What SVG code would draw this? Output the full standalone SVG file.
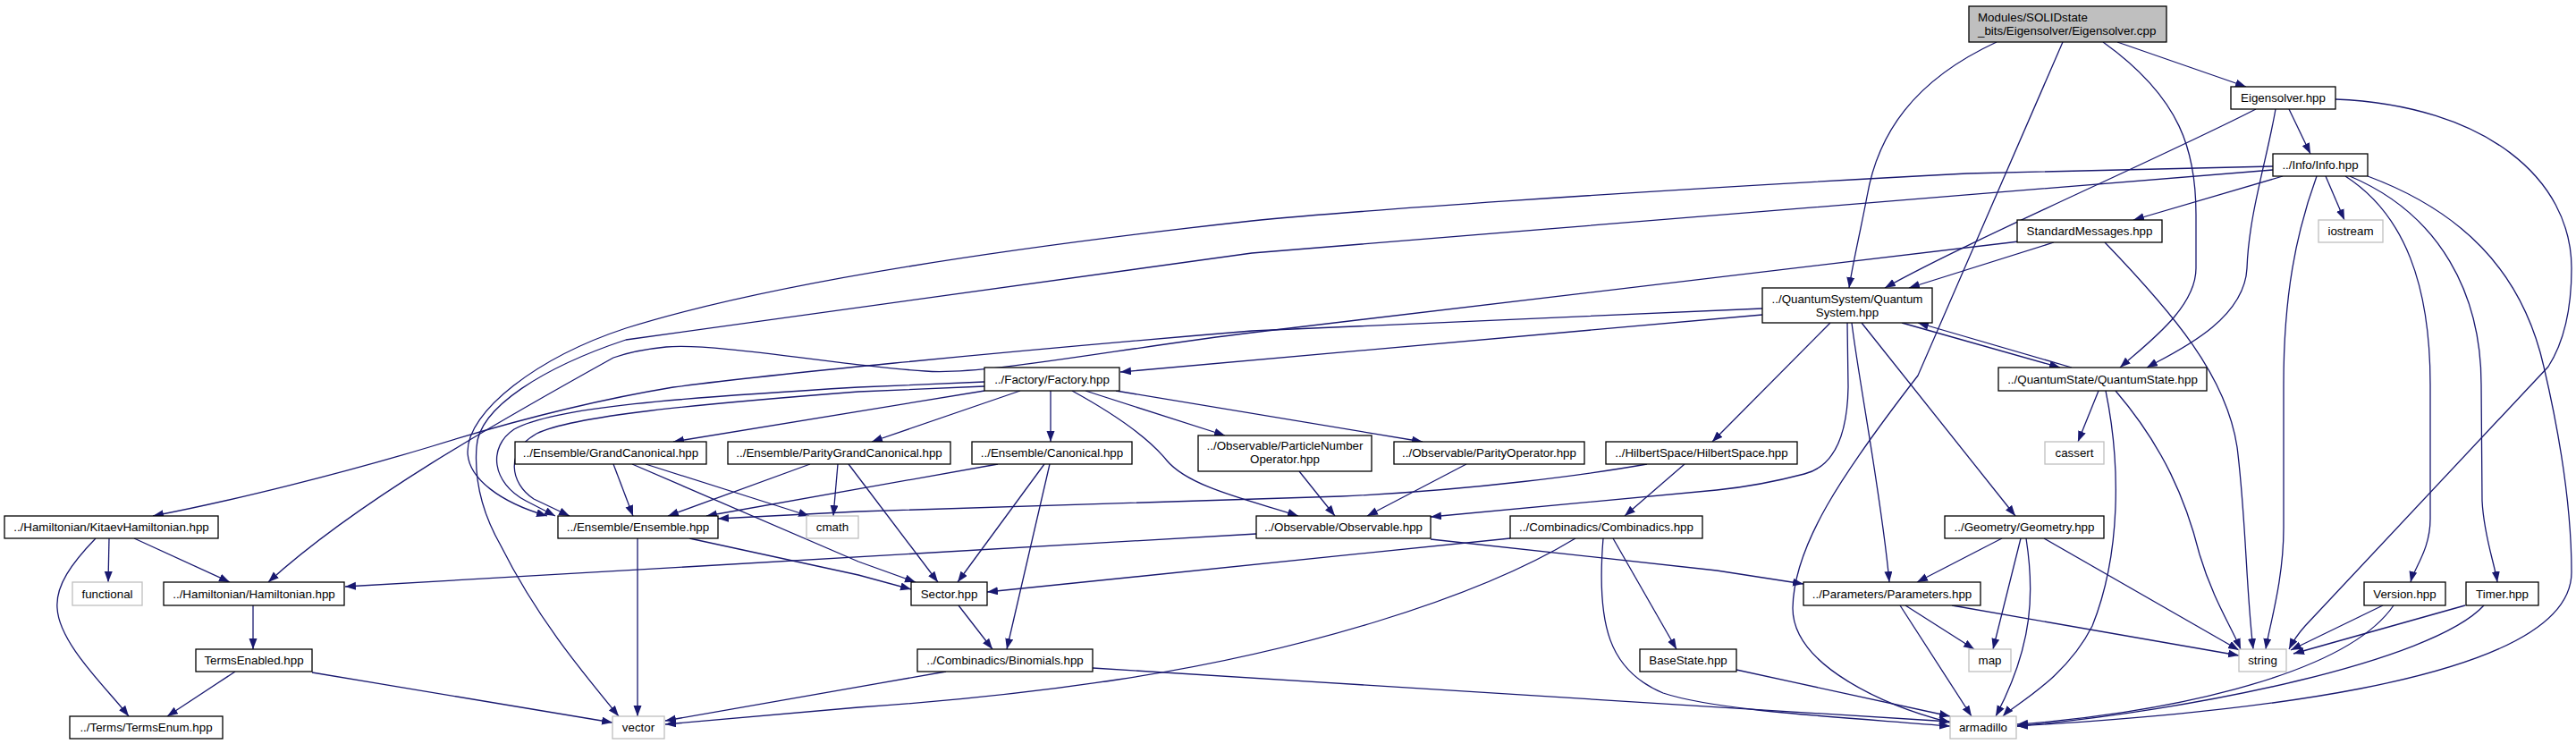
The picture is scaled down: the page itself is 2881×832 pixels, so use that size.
<svg xmlns="http://www.w3.org/2000/svg" width="2881" height="832" viewBox="0 0 2881 832">
<defs>
<marker id="ah" markerWidth="13" markerHeight="10" refX="12" refY="4.5" orient="auto" markerUnits="userSpaceOnUse"><path d="M0,0 L12,4.5 L0,9 z" fill="#191970"/></marker>
<style>
.nd rect{fill:#fff;stroke:#000;stroke-width:1.3}
.ex rect{fill:#fff;stroke:#bfbfbf;stroke-width:1.3}
.root rect{fill:#bfbfbf;stroke:#000;stroke-width:1.3}
text{font-family:"Liberation Sans",Arial,Helvetica,sans-serif;font-size:13.33px;text-anchor:middle;fill:#000}
.root text{text-anchor:start}
#edges path{fill:none;stroke:#191970;stroke-width:1.3;marker-end:url(#ah)}
</style>
</defs>
<rect width="2881" height="832" fill="#fff"/>
<g id="edges">
<path d="M2368,47 L2512,97"/>
<path d="M2233,47 C2140,90 2100,150 2088,220 C2080,262 2072,295 2068,322"/>
<path d="M2307,47 L2145,420 C2060,530 2006,610 2005,680 C2005,745 2110,790 2181,808"/>
<path d="M2352,47 C2440,110 2456,170 2456,240 L2456,300 C2456,345 2400,385 2371,411"/>
<path d="M2560,122 L2584,172"/>
<path d="M2523,122 C2420,175 2200,270 2108,322"/>
<path d="M2545,122 C2535,180 2515,240 2513,300 C2510,360 2430,395 2401,411"/>
<path d="M2612,111 C2780,118 2876,200 2876,300 C2876,350 2866,385 2850,410 L2578,700 C2570,709 2565,716 2560,726"/>
<path d="M2553,197 L2386,246"/>
<path d="M2601,197 L2622,246"/>
<path d="M2591,197 C2568,260 2554,330 2554,430 L2554,590 C2554,650 2538,700 2534,726"/>
<path d="M2623,197 C2690,240 2718,320 2718,430 L2718,580 C2718,615 2700,635 2696,651"/>
<path d="M2628,197 C2730,240 2775,330 2775,430 L2776,560 C2778,600 2790,630 2793,651"/>
<path d="M2648,197 C2750,235 2820,300 2845,410 C2866,500 2876,580 2876,640 C2876,770 2450,800 2256,812"/>
<path d="M2542,186 L2200,194 C1800,215 1500,237 1400,247 C1100,280 850,320 700,367 C600,400 523,460 523,505 C523,535 560,562 612,577"/>
<path d="M2542,190 L1400,283 L700,380 C610,410 535,455 533,500 C530,540 540,575 560,610 C600,690 650,750 692,801"/>
<path d="M2297,271 L2135,322"/>
<path d="M2354,271 C2430,350 2490,420 2502,500 C2512,580 2512,660 2520,726"/>
<path d="M2258,270 L1400,372 C1250,390 1100,420 1035,415 C950,410 800,383 745,388 C715,391 700,395 686,400 C560,470 400,560 300,651"/>
<path d="M1971,352 L1253,416"/>
<path d="M1971,345 L1400,370 C1100,395 850,420 753,433 C650,450 560,475 480,500 C380,530 260,560 171,577"/>
<path d="M2127,361 L2304,411"/>
<path d="M2317,411 L2145,361"/>
<path d="M2047,361 L1915,494"/>
<path d="M2066,361 L2067,433 C2066,490 2050,522 2018,530 C1980,540 1950,545 1920,548 L1600,578"/>
<path d="M2071,361 C2078,420 2105,560 2113,651"/>
<path d="M2082,361 L2254,577"/>
<path d="M1101,437 L753,494"/>
<path d="M1141,437 L975,494"/>
<path d="M1175,437 L1175,494"/>
<path d="M1199,437 C1250,465 1285,490 1305,515 C1330,545 1400,560 1452,577"/>
<path d="M1214,437 L1370,487"/>
<path d="M1248,437 L1591,494"/>
<path d="M1101,427 L960,433 C760,445 620,455 575,480 C545,500 550,540 588,560 L621,577"/>
<path d="M1101,432 L960,438 C780,452 640,465 600,485 C565,505 570,540 597,558 L637,577"/>
<path d="M686,519 L708,577"/>
<path d="M722,519 L905,577"/>
<path d="M707,519 L960,628 L1024,651"/>
<path d="M906,519 L747,577"/>
<path d="M937,519 L932,577"/>
<path d="M949,519 L1049,651"/>
<path d="M1116,519 L790,577"/>
<path d="M1168,519 L1071,651"/>
<path d="M1174,519 L1126,726"/>
<path d="M1072,677 L1110,726"/>
<path d="M771,602 L960,643 L1019,659"/>
<path d="M713,602 L713,801"/>
<path d="M1842,519 C1780,530 1650,548 1500,555 L960,572 L803,580"/>
<path d="M1884,519 L1817,577"/>
<path d="M1453,527 L1493,577"/>
<path d="M1640,519 L1529,577"/>
<path d="M1405,597 L386,656"/>
<path d="M1600,603 L1920,638 L2017,653"/>
<path d="M1689,602 L1104,662"/>
<path d="M1762,602 C1650,670 1450,730 1250,760 C1150,775 1050,785 960,791 L744,810"/>
<path d="M1804,602 L1875,726"/>
<path d="M1793,602 C1785,700 1800,750 1860,775 C1920,795 2060,802 2181,812"/>
<path d="M1058,751 L744,806"/>
<path d="M1222,747 L2181,807"/>
<path d="M1942,749 L2181,801"/>
<path d="M2131,677 L2208,726"/>
<path d="M2125,677 L2205,801"/>
<path d="M2183,677 L2504,733"/>
<path d="M2239,602 L2144,651"/>
<path d="M2260,602 L2229,726"/>
<path d="M2266,602 C2275,660 2275,720 2232,801"/>
<path d="M2286,602 L2504,727"/>
<path d="M2347,437 L2324,494"/>
<path d="M2355,437 C2372,520 2372,620 2340,700 C2310,760 2250,790 2240,801"/>
<path d="M2366,437 C2420,500 2445,560 2460,620 C2475,670 2495,700 2506,726"/>
<path d="M2665,677 L2562,727"/>
<path d="M2677,677 C2620,760 2400,800 2256,810"/>
<path d="M2757,677 L2565,731"/>
<path d="M2778,677 C2720,740 2450,795 2256,812"/>
<path d="M122,602 L121,651"/>
<path d="M150,602 L257,651"/>
<path d="M107,602 C80,630 62,655 64,680 C66,720 120,770 144,801"/>
<path d="M283,677 L283,726"/>
<path d="M263,751 L187,801"/>
<path d="M349,752 L685,808"/>
</g>
<g id="n1" class="root"><rect x="2202" y="7" width="221" height="40"/><text x="2212" y="24">Modules/SOLIDstate</text><text x="2212" y="39">_bits/Eigensolver/Eigensolver.cpp</text></g>
<g id="n2" class="nd"><rect x="2495" y="97" width="117" height="25"/><text x="2553.5" y="114.2">Eigensolver.hpp</text></g>
<g id="n3" class="nd"><rect x="2542" y="172" width="106" height="25"/><text x="2595" y="189.2">../Info/Info.hpp</text></g>
<g id="n4" class="nd"><rect x="2256" y="246" width="162" height="25"/><text x="2337" y="263.2">StandardMessages.hpp</text></g>
<g id="n5" class="ex"><rect x="2593" y="246" width="72" height="25"/><text x="2629" y="263.2">iostream</text></g>
<g id="n6" class="nd"><rect x="1971" y="322" width="190" height="39"/><text x="2066" y="338.5">../QuantumSystem/Quantum</text><text x="2066" y="353.5">System.hpp</text></g>
<g id="n7" class="nd"><rect x="2235" y="411" width="233" height="26"/><text x="2351.5" y="428.7">../QuantumState/QuantumState.hpp</text></g>
<g id="n8" class="nd"><rect x="1101" y="411" width="151" height="26"/><text x="1176.5" y="428.7">../Factory/Factory.hpp</text></g>
<g id="n9" class="nd"><rect x="576" y="494" width="214" height="25"/><text x="683" y="511.2">../Ensemble/GrandCanonical.hpp</text></g>
<g id="n10" class="nd"><rect x="814" y="494" width="249" height="25"/><text x="938.5" y="511.2">../Ensemble/ParityGrandCanonical.hpp</text></g>
<g id="n11" class="nd"><rect x="1087" y="494" width="179" height="25"/><text x="1176.5" y="511.2">../Ensemble/Canonical.hpp</text></g>
<g id="n12" class="nd"><rect x="1340" y="487" width="194" height="40"/><text x="1437" y="503">../Observable/ParticleNumber</text><text x="1437" y="518">Operator.hpp</text></g>
<g id="n13" class="nd"><rect x="1559" y="494" width="213" height="25"/><text x="1665.5" y="511.2">../Observable/ParityOperator.hpp</text></g>
<g id="n14" class="nd"><rect x="1796" y="494" width="214" height="25"/><text x="1903" y="511.2">../HilbertSpace/HilbertSpace.hpp</text></g>
<g id="n15" class="ex"><rect x="2287" y="494" width="66" height="25"/><text x="2320" y="511.2">cassert</text></g>
<g id="n16" class="nd"><rect x="5" y="577" width="239" height="25"/><text x="124.5" y="594.2">../Hamiltonian/KitaevHamiltonian.hpp</text></g>
<g id="n17" class="nd"><rect x="624" y="577" width="179" height="25"/><text x="713.5" y="594.2">../Ensemble/Ensemble.hpp</text></g>
<g id="n18" class="ex"><rect x="902" y="577" width="58" height="25"/><text x="931" y="594.2">cmath</text></g>
<g id="n19" class="nd"><rect x="1405" y="577" width="195" height="25"/><text x="1502.5" y="594.2">../Observable/Observable.hpp</text></g>
<g id="n20" class="nd"><rect x="1689" y="577" width="215" height="25"/><text x="1796.5" y="594.2">../Combinadics/Combinadics.hpp</text></g>
<g id="n21" class="nd"><rect x="2175" y="577" width="178" height="25"/><text x="2264" y="594.2">../Geometry/Geometry.hpp</text></g>
<g id="n22" class="ex"><rect x="81" y="651" width="78" height="26"/><text x="120" y="668.7">functional</text></g>
<g id="n23" class="nd"><rect x="183" y="651" width="202" height="26"/><text x="284" y="668.7">../Hamiltonian/Hamiltonian.hpp</text></g>
<g id="n24" class="nd"><rect x="1019" y="651" width="85" height="26"/><text x="1061.5" y="668.7">Sector.hpp</text></g>
<g id="n25" class="nd"><rect x="2017" y="651" width="198" height="26"/><text x="2116" y="668.7">../Parameters/Parameters.hpp</text></g>
<g id="n26" class="nd"><rect x="2644" y="651" width="91" height="26"/><text x="2689.5" y="668.7">Version.hpp</text></g>
<g id="n27" class="nd"><rect x="2758" y="651" width="81" height="26"/><text x="2798.5" y="668.7">Timer.hpp</text></g>
<g id="n28" class="nd"><rect x="219" y="726" width="130" height="25"/><text x="284" y="743.2">TermsEnabled.hpp</text></g>
<g id="n29" class="nd"><rect x="1026" y="726" width="196" height="25"/><text x="1124" y="743.2">../Combinadics/Binomials.hpp</text></g>
<g id="n30" class="nd"><rect x="1834" y="726" width="108" height="25"/><text x="1888" y="743.2">BaseState.hpp</text></g>
<g id="n31" class="ex"><rect x="2202" y="726" width="47" height="25"/><text x="2225.5" y="743.2">map</text></g>
<g id="n32" class="ex"><rect x="2504" y="726" width="53" height="25"/><text x="2530.5" y="743.2">string</text></g>
<g id="n33" class="nd"><rect x="78" y="801" width="171" height="25"/><text x="163.5" y="818.2">../Terms/TermsEnum.hpp</text></g>
<g id="n34" class="ex"><rect x="685" y="801" width="58" height="25"/><text x="714" y="818.2">vector</text></g>
<g id="n35" class="ex"><rect x="2181" y="801" width="74" height="25"/><text x="2218" y="818.2">armadillo</text></g>
</svg>
